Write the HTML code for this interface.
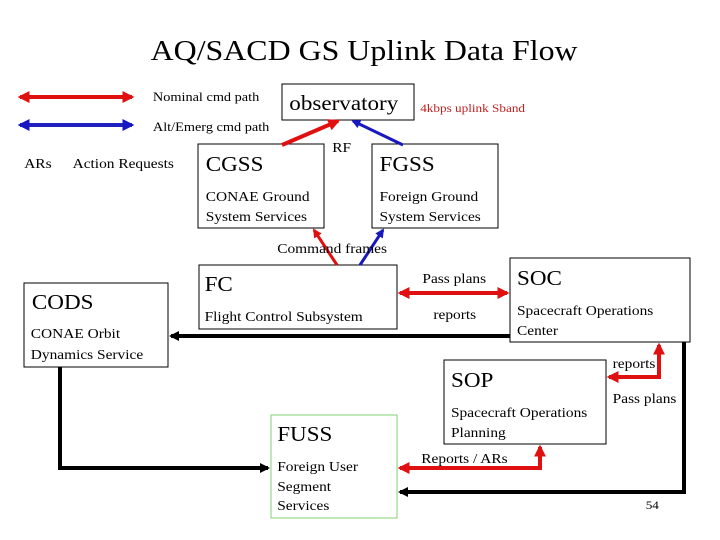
<!DOCTYPE html>
<html><head><style>body{margin:0;background:#fff}svg{display:block}text{font-family:"Liberation Serif",serif;fill:#000}</style></head>
<body>
<svg width="720" height="540" viewBox="0 0 720 540" xmlns="http://www.w3.org/2000/svg">
<defs>
<marker id="r" viewBox="0 0 10 10" refX="8" refY="5" markerWidth="3" markerHeight="3" orient="auto-start-reverse"><path d="M0,0L10,5L0,10z" fill="#e01010"/></marker>
<marker id="b" viewBox="0 0 10 10" refX="8" refY="5" markerWidth="3" markerHeight="3" orient="auto-start-reverse"><path d="M0,0L10,5L0,10z" fill="#1818c0"/></marker>
<marker id="k" viewBox="0 0 10 10" refX="8" refY="5" markerWidth="2.5" markerHeight="2.5" orient="auto-start-reverse"><path d="M0,0L10,5L0,10z" fill="#000"/></marker>
</defs>
<!-- legend -->
<line x1="20" y1="97" x2="132" y2="97" stroke="#e01010" stroke-width="4" marker-start="url(#r)" marker-end="url(#r)"/>
<line x1="20" y1="125" x2="132" y2="125" stroke="#2020c0" stroke-width="4" marker-start="url(#b)" marker-end="url(#b)"/>
<!-- boxes -->
<g fill="#fff" stroke="#000" stroke-width="1">
<rect x="282" y="84" width="132" height="36"/>
<rect x="198" y="144" width="126" height="84"/>
<rect x="372" y="144" width="126" height="84"/>
<rect x="199" y="265" width="198" height="64"/>
<rect x="510" y="258" width="180" height="84"/>
<rect x="24" y="283" width="144" height="84"/>
<rect x="444" y="360" width="162" height="84"/>
<rect x="271" y="415" width="126" height="103" stroke="#80d070"/>
</g>
<!-- connectors -->
<line x1="282" y1="145" x2="338" y2="121" stroke="#e01010" stroke-width="4" marker-end="url(#r)"/>
<line x1="403" y1="145" x2="353" y2="121" stroke="#1818c0" stroke-width="3" marker-end="url(#b)"/>
<line x1="337" y1="265" x2="314" y2="230" stroke="#e01010" stroke-width="3" marker-end="url(#r)"/>
<line x1="360" y1="265" x2="383" y2="230" stroke="#1818c0" stroke-width="3" marker-end="url(#b)"/>
<line x1="400" y1="293" x2="507" y2="293" stroke="#e01010" stroke-width="4" marker-start="url(#r)" marker-end="url(#r)"/>
<line x1="510" y1="336" x2="171" y2="336" stroke="#000" stroke-width="4" marker-end="url(#k)"/>
<polyline points="60,367 60,468 268,468" fill="none" stroke="#000" stroke-width="4" marker-end="url(#k)"/>
<polyline points="684,342 684,492 400,492" fill="none" stroke="#000" stroke-width="4" marker-end="url(#k)"/>
<polyline points="659,345 659,377 609,377" fill="none" stroke="#e01010" stroke-width="4" marker-start="url(#r)" marker-end="url(#r)"/>
<polyline points="540,447 540,468 400,468" fill="none" stroke="#e01010" stroke-width="4" marker-start="url(#r)" marker-end="url(#r)"/>
<g transform="scale(1.1,1)">
<text x="331" y="60" font-size="29" text-anchor="middle">AQ/SACD GS Uplink Data Flow</text>
<text x="139" y="101" font-size="13">Nominal cmd path</text>
<text x="139" y="131" font-size="13">Alt/Emerg cmd path</text>
<text x="22" y="168" font-size="14">ARs</text>
<text x="66" y="168" font-size="14">Action Requests</text>
<text x="263" y="110" font-size="21">observatory</text>
<text x="382" y="112" font-size="12" style="fill:#c02020">4kbps uplink Sband</text>
<text x="187" y="171" font-size="21">CGSS</text>
<text x="187" y="201" font-size="14">CONAE Ground</text>
<text x="187" y="221" font-size="14">System Services</text>
<text x="345" y="171" font-size="21">FGSS</text>
<text x="345" y="201" font-size="14">Foreign Ground</text>
<text x="345" y="221" font-size="14">System Services</text>
<text x="302" y="152" font-size="14">RF</text>
<text x="252" y="253" font-size="14">Command frames</text>
<text x="186" y="291" font-size="21">FC</text>
<text x="186" y="321" font-size="14">Flight Control Subsystem</text>
<text x="470" y="285" font-size="21">SOC</text>
<text x="470" y="315" font-size="14">Spacecraft Operations</text>
<text x="470" y="335" font-size="14">Center</text>
<text x="29" y="309" font-size="21">CODS</text>
<text x="28" y="338" font-size="14">CONAE Orbit</text>
<text x="28" y="359" font-size="14">Dynamics Service</text>
<text x="410" y="387" font-size="21">SOP</text>
<text x="410" y="417" font-size="14">Spacecraft Operations</text>
<text x="410" y="437" font-size="14">Planning</text>
<text x="252" y="441" font-size="21">FUSS</text>
<text x="252" y="471" font-size="14">Foreign User</text>
<text x="252" y="491" font-size="14">Segment</text>
<text x="252" y="510" font-size="14">Services</text>
<text x="384" y="283" font-size="14">Pass plans</text>
<text x="394" y="319" font-size="14">reports</text>
<text x="557" y="368" font-size="14">reports</text>
<text x="557" y="403" font-size="14">Pass plans</text>
<text x="383" y="463" font-size="14">Reports / ARs</text>
<text x="587" y="509" font-size="12">54</text>
</g>
</svg>
</body></html>
